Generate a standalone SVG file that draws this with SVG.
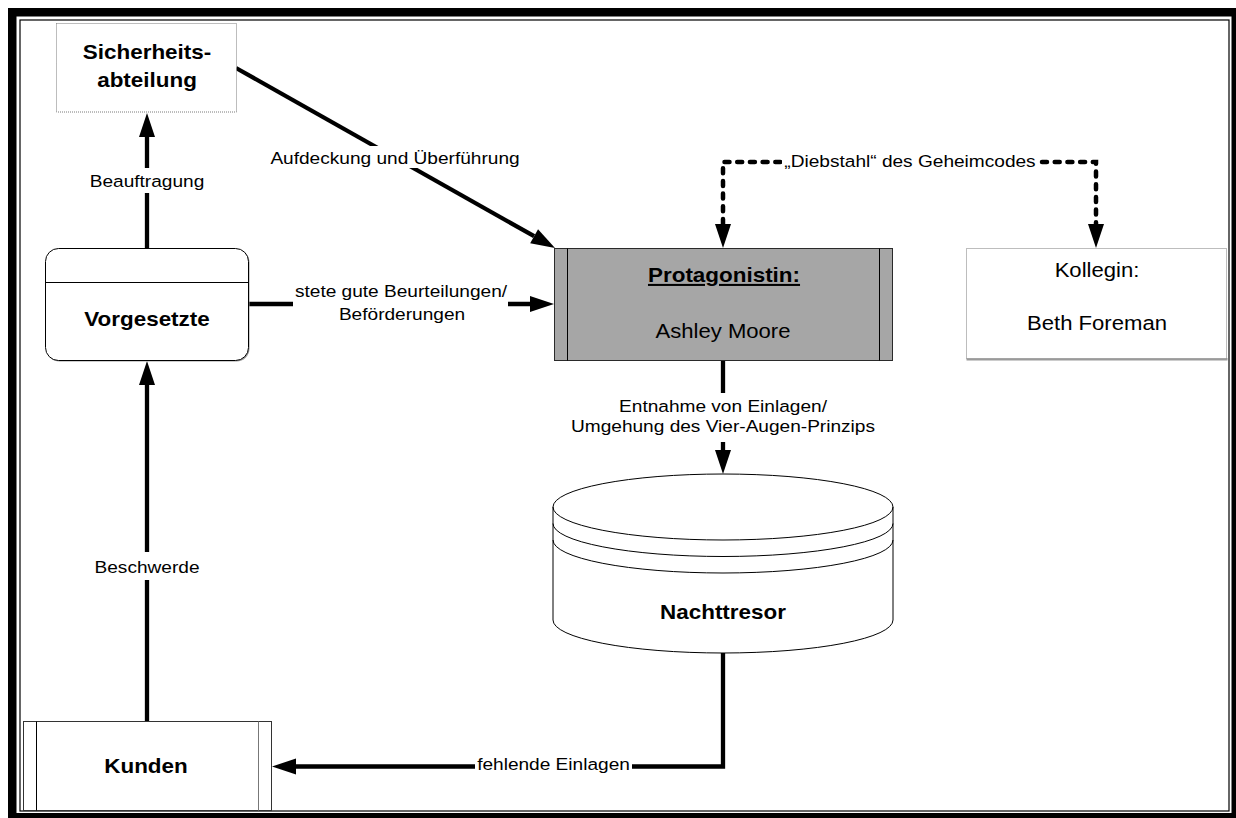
<svg xmlns="http://www.w3.org/2000/svg" width="1236" height="818" viewBox="0 0 1236 818">
  <style>
    text { font-family: "Liberation Sans", Arial, sans-serif; fill: #000; text-anchor: middle; }
    .title { font-size: 20.5px; font-weight: bold; }
    .name { font-size: 19.5px; }
    .lbl { font-size: 17.2px; }
    .flow { fill: none; stroke: #000; stroke-width: 4.3; stroke-linejoin: miter; }
    .dash { fill: none; stroke: #000; stroke-width: 4.5; stroke-linecap: round; stroke-dasharray: 5 7.7; }
    .bg { fill: #fff; stroke: none; }
    .dotted { fill: #fff; stroke: #7a7a7a; stroke-width: 1; stroke-dasharray: 1 1; }
    .edge { fill: none; stroke: #000; stroke-width: 1; }
  </style>
  <defs>
    <marker id="head" markerUnits="userSpaceOnUse" markerWidth="24" markerHeight="16" refX="0" refY="8" orient="auto" overflow="visible">
      <path d="M0,0 L24,8 L0,16 z" fill="#000"/>
    </marker>
  </defs>

  <!-- page background and double frame -->
  <rect x="0" y="0" width="1236" height="818" fill="#fff"/>
  <path d="M8,8 H1244 V826 H8 Z M16.5,16.5 V813 H1231.5 V16.5 Z" fill="#000" fill-rule="evenodd"/>
  <rect x="20" y="20" width="1209" height="791" fill="none" stroke="#000" stroke-width="1.2"/>

  <!-- connectors -->
  <g id="connectors">
    <!-- Vorgesetzte -> Sicherheitsabteilung -->
    <path class="flow" d="M147,248 V137" marker-end="url(#head)"/>
    <!-- Sicherheitsabteilung -> Protagonistin -->
    <path class="flow" d="M236,68 L534.1,236.2" marker-end="url(#head)"/>
    <!-- Vorgesetzte -> Protagonistin -->
    <path class="flow" d="M249,304 H530" marker-end="url(#head)"/>
    <!-- Protagonistin <-> Kollegin (dashed, heads pointing down at both ends) -->
    <path class="dash" d="M723,224 V162 H1096 V224"/>
    <path d="M723,220 V224" fill="none" stroke="none" marker-end="url(#head)"/>
    <path d="M1096,220 V224" fill="none" stroke="none" marker-end="url(#head)"/>
    <!-- Protagonistin -> Nachttresor -->
    <path class="flow" d="M723,361 V450" marker-end="url(#head)"/>
    <!-- Nachttresor -> Kunden -->
    <path class="flow" d="M723,653 V766.5 H296" marker-end="url(#head)"/>
    <!-- Kunden -> Vorgesetzte -->
    <path class="flow" d="M147,721 V385" marker-end="url(#head)"/>

    <!-- connector labels -->
    <rect class="bg" x="86" y="168" width="122" height="25"/>
    <g transform="translate(147,187) scale(1.11,1)"><text class="lbl">Beauftragung</text></g>

    <rect class="bg" x="268" y="146" width="254" height="22"/>
    <g transform="translate(395,164) scale(1.11,1)"><text class="lbl">Aufdeckung und Überführung</text></g>

    <rect class="bg" x="293" y="280" width="215" height="46"/>
    <g transform="translate(401,297) scale(1.11,1)"><text class="lbl">stete gute Beurteilungen/</text></g>
    <g transform="translate(402,320) scale(1.11,1)"><text class="lbl">Beförderungen</text></g>

    <rect class="bg" x="782" y="150" width="257" height="22"/>
    <g transform="translate(910,167) scale(1.11,1)"><text class="lbl">„Diebstahl“ des Geheimcodes</text></g>

    <rect class="bg" x="566" y="393" width="314" height="49"/>
    <g transform="translate(723,412) scale(1.11,1)"><text class="lbl">Entnahme von Einlagen/</text></g>
    <g transform="translate(723,432) scale(1.11,1)"><text class="lbl">Umgehung des Vier-Augen-Prinzips</text></g>

    <rect class="bg" x="86" y="552" width="122" height="28"/>
    <g transform="translate(147,573) scale(1.11,1)"><text class="lbl">Beschwerde</text></g>

    <rect class="bg" x="475" y="752" width="157" height="24"/>
    <g transform="translate(553.5,770) scale(1.11,1)"><text class="lbl">fehlende Einlagen</text></g>
  </g>

  <!-- Sicherheitsabteilung -->
  <g id="sicherheitsabteilung">
    <rect class="dotted" x="56.5" y="23.5" width="180" height="88.5"/>
    <g transform="translate(147,59) scale(1.095,1)"><text class="title">Sicherheits-</text></g>
    <g transform="translate(147,87) scale(1.095,1)"><text class="title">abteilung</text></g>
  </g>

  <!-- Vorgesetzte -->
  <g id="vorgesetzte">
    <rect x="46.5" y="249.5" width="203" height="112" rx="13" fill="#9a9a9a"/>
    <rect x="45.5" y="248.5" width="203" height="112" rx="13" fill="#fff" stroke="#000" stroke-width="1"/>
    <line class="edge" x1="45.5" y1="282.5" x2="248.5" y2="282.5"/>
    <g transform="translate(147,326) scale(1.095,1)"><text class="title">Vorgesetzte</text></g>
  </g>

  <!-- Protagonistin -->
  <g id="protagonistin">
    <rect x="554.5" y="248.5" width="338" height="112" fill="#a6a6a6" stroke="#2a2a2a" stroke-width="1"/>
    <line class="edge" x1="567.5" y1="248.5" x2="567.5" y2="360.5"/>
    <line class="edge" x1="879.5" y1="248.5" x2="879.5" y2="360.5"/>
    <g transform="translate(724,282) scale(1.095,1)"><text class="title" text-decoration="underline">Protagonistin:</text></g>
    <g transform="translate(723,338) scale(1.133,1)"><text class="name">Ashley Moore</text></g>
  </g>

  <!-- Kollegin -->
  <g id="kollegin">
    <rect x="966.5" y="358" width="261" height="2.5" fill="#9a9a9a"/>
    <rect class="dotted" x="966.5" y="248.5" width="260" height="110"/>
    <g transform="translate(1097,277) scale(1.133,1)"><text class="name">Kollegin:</text></g>
    <g transform="translate(1097,330) scale(1.133,1)"><text class="name">Beth Foreman</text></g>
  </g>

  <!-- Nachttresor (data store cylinder) -->
  <g id="nachttresor">
    <path d="M553,507 A170,33 0 0 1 893,507 V620 A170,33 0 0 1 553,620 Z" fill="#fff" stroke="#000" stroke-width="1"/>
    <path class="edge" d="M553,507 A170,33 0 0 0 893,507"/>
    <path class="edge" d="M553,523.5 A170,33 0 0 0 893,523.5"/>
    <path class="edge" d="M553,540 A170,33 0 0 0 893,540"/>
    <g transform="translate(723,619) scale(1.095,1)"><text class="title">Nachttresor</text></g>
  </g>

  <!-- Kunden -->
  <g id="kunden">
    <rect x="23.5" y="721.5" width="248" height="89" fill="#fff" stroke="#333" stroke-width="1"/>
    <line class="edge" x1="36.5" y1="721.5" x2="36.5" y2="810.5"/>
    <line x1="258.5" y1="721.5" x2="258.5" y2="810.5" stroke="#777" stroke-width="1"/>
    <g transform="translate(146,773) scale(1.095,1)"><text class="title">Kunden</text></g>
  </g>
</svg>
